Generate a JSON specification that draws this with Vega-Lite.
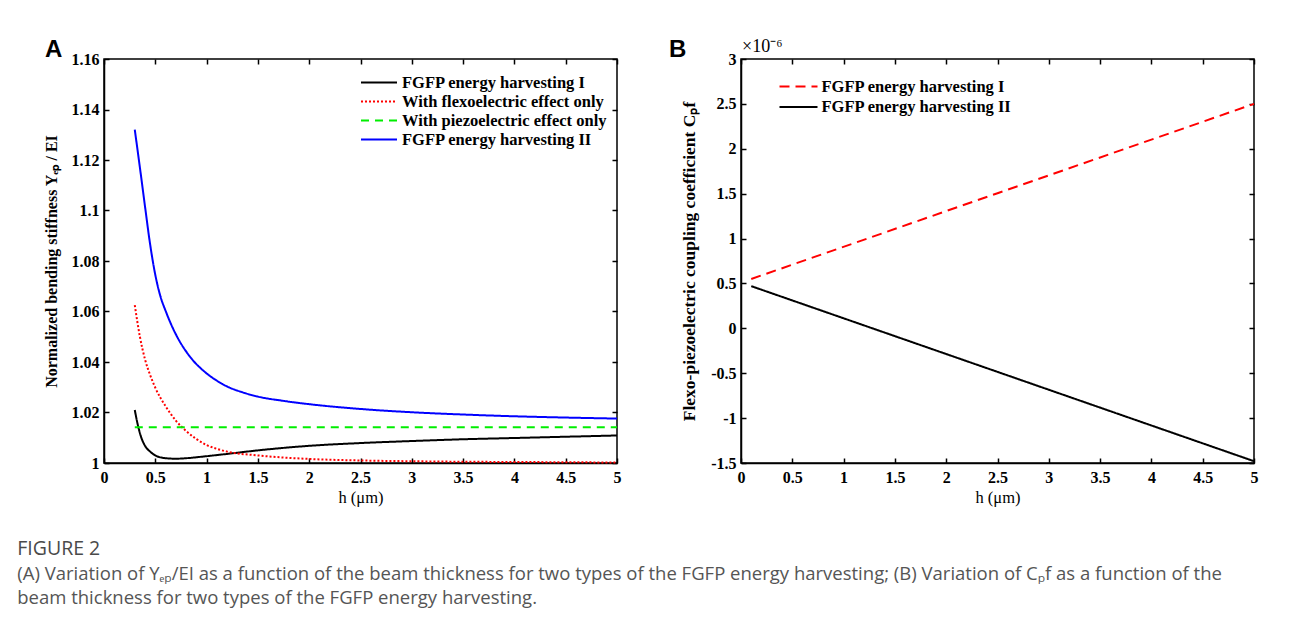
{
  "$schema": "https://vega.github.io/schema/vega-lite/v6.json",
  "background": "white",
  "padding": {"left": 17, "top": 37, "right": 10, "bottom": 5},
  "config": {
    "view": {"stroke": "black", "strokeWidth": 1.5},
    "axis": {
      "grid": false,
      "domainColor": "black",
      "domainWidth": 1.5,
      "tickColor": "black",
      "tickWidth": 1.5,
      "tickSize": -5,
      "labelPadding": 10,
      "labelFont": "Liberation Serif",
      "labelFontSize": 16,
      "labelFontWeight": "bold",
      "labelColor": "black",
      "labelFlush": false,
      "labelOverlap": false,
      "titleFont": "Liberation Serif",
      "titleFontSize": 16,
      "titleFontWeight": "bold",
      "titleColor": "black"
    },
    "axisX": {"labelPadding": 11},
    "legend": {
      "title": null,
      "symbolType": "M-2,0H2",
      "symbolStrokeWidth": 2,
      "labelFont": "Liberation Serif",
      "labelFontSize": 16.5,
      "labelFontWeight": "bold",
      "labelColor": "black",
      "labelLimit": 400,
      "rowPadding": 0,
      "padding": 0
    }
  },
  "resolve": {
    "scale": {"color": "independent", "strokeDash": "independent"},
    "legend": {"color": "independent", "strokeDash": "independent"}
  },
  "title": {
    "text": "FIGURE 2",
    "subtitle": [
      "(A) Variation of Yₑₚ/EI as a function of the beam thickness for two types of the FGFP energy harvesting; (B) Variation of Cₚf as a function of the",
      "beam thickness for two types of the FGFP energy harvesting."
    ],
    "orient": "bottom",
    "anchor": "start",
    "dx": -25,
    "offset": 34,
    "font": "Open Sans",
    "fontSize": 19.5,
    "fontWeight": "normal",
    "color": "#4a4a4a",
    "subtitleFont": "Open Sans",
    "subtitleFontSize": 18.5,
    "subtitleColor": "#555555",
    "subtitleLineHeight": 24,
    "subtitlePadding": 5
  },
  "datasets": {
    "panelA": [
      {"h": 0.3, "value": 1.021, "series": "FGFP energy harvesting I"},
      {"h": 0.33, "value": 1.015, "series": "FGFP energy harvesting I"},
      {"h": 0.36, "value": 1.0105, "series": "FGFP energy harvesting I"},
      {"h": 0.4, "value": 1.0068, "series": "FGFP energy harvesting I"},
      {"h": 0.45, "value": 1.0045, "series": "FGFP energy harvesting I"},
      {"h": 0.5, "value": 1.003, "series": "FGFP energy harvesting I"},
      {"h": 0.6, "value": 1.0019, "series": "FGFP energy harvesting I"},
      {"h": 0.7, "value": 1.0017, "series": "FGFP energy harvesting I"},
      {"h": 0.8, "value": 1.0019, "series": "FGFP energy harvesting I"},
      {"h": 1.0, "value": 1.0027, "series": "FGFP energy harvesting I"},
      {"h": 1.2, "value": 1.0036, "series": "FGFP energy harvesting I"},
      {"h": 1.5, "value": 1.005, "series": "FGFP energy harvesting I"},
      {"h": 2.0, "value": 1.0068, "series": "FGFP energy harvesting I"},
      {"h": 2.5, "value": 1.0079, "series": "FGFP energy harvesting I"},
      {"h": 3.0, "value": 1.0087, "series": "FGFP energy harvesting I"},
      {"h": 3.5, "value": 1.0094, "series": "FGFP energy harvesting I"},
      {"h": 4.0, "value": 1.0099, "series": "FGFP energy harvesting I"},
      {"h": 4.5, "value": 1.0104, "series": "FGFP energy harvesting I"},
      {"h": 5.0, "value": 1.0109, "series": "FGFP energy harvesting I"},

      {"h": 0.3, "value": 1.0625, "series": "With flexoelectric effect only"},
      {"h": 0.35, "value": 1.05, "series": "With flexoelectric effect only"},
      {"h": 0.4, "value": 1.041, "series": "With flexoelectric effect only"},
      {"h": 0.45, "value": 1.0348, "series": "With flexoelectric effect only"},
      {"h": 0.5, "value": 1.0298, "series": "With flexoelectric effect only"},
      {"h": 0.6, "value": 1.0225, "series": "With flexoelectric effect only"},
      {"h": 0.7, "value": 1.0168, "series": "With flexoelectric effect only"},
      {"h": 0.8, "value": 1.0127, "series": "With flexoelectric effect only"},
      {"h": 0.9, "value": 1.0095, "series": "With flexoelectric effect only"},
      {"h": 1.0, "value": 1.0071, "series": "With flexoelectric effect only"},
      {"h": 1.1, "value": 1.0056, "series": "With flexoelectric effect only"},
      {"h": 1.2, "value": 1.0045, "series": "With flexoelectric effect only"},
      {"h": 1.5, "value": 1.003, "series": "With flexoelectric effect only"},
      {"h": 2.0, "value": 1.0016, "series": "With flexoelectric effect only"},
      {"h": 2.5, "value": 1.001, "series": "With flexoelectric effect only"},
      {"h": 3.0, "value": 1.0007, "series": "With flexoelectric effect only"},
      {"h": 3.5, "value": 1.0005, "series": "With flexoelectric effect only"},
      {"h": 4.0, "value": 1.0004, "series": "With flexoelectric effect only"},
      {"h": 4.5, "value": 1.0003, "series": "With flexoelectric effect only"},
      {"h": 5.0, "value": 1.0002, "series": "With flexoelectric effect only"},

      {"h": 0.3, "value": 1.0142, "series": "With piezoelectric effect only"},
      {"h": 5.0, "value": 1.0142, "series": "With piezoelectric effect only"},

      {"h": 0.3, "value": 1.132, "series": "FGFP energy harvesting II"},
      {"h": 0.35, "value": 1.117, "series": "FGFP energy harvesting II"},
      {"h": 0.4, "value": 1.1015, "series": "FGFP energy harvesting II"},
      {"h": 0.45, "value": 1.0865, "series": "FGFP energy harvesting II"},
      {"h": 0.5, "value": 1.0745, "series": "FGFP energy harvesting II"},
      {"h": 0.55, "value": 1.066, "series": "FGFP energy harvesting II"},
      {"h": 0.6, "value": 1.0603, "series": "FGFP energy harvesting II"},
      {"h": 0.65, "value": 1.0553, "series": "FGFP energy harvesting II"},
      {"h": 0.7, "value": 1.051, "series": "FGFP energy harvesting II"},
      {"h": 0.75, "value": 1.0473, "series": "FGFP energy harvesting II"},
      {"h": 0.8, "value": 1.0442, "series": "FGFP energy harvesting II"},
      {"h": 0.87, "value": 1.0405, "series": "FGFP energy harvesting II"},
      {"h": 0.93, "value": 1.038, "series": "FGFP energy harvesting II"},
      {"h": 1.0, "value": 1.0355, "series": "FGFP energy harvesting II"},
      {"h": 1.1, "value": 1.0326, "series": "FGFP energy harvesting II"},
      {"h": 1.2, "value": 1.0303, "series": "FGFP energy harvesting II"},
      {"h": 1.35, "value": 1.028, "series": "FGFP energy harvesting II"},
      {"h": 1.5, "value": 1.0263, "series": "FGFP energy harvesting II"},
      {"h": 1.75, "value": 1.0246, "series": "FGFP energy harvesting II"},
      {"h": 2.0, "value": 1.0233, "series": "FGFP energy harvesting II"},
      {"h": 2.5, "value": 1.0214, "series": "FGFP energy harvesting II"},
      {"h": 3.0, "value": 1.0201, "series": "FGFP energy harvesting II"},
      {"h": 3.5, "value": 1.0192, "series": "FGFP energy harvesting II"},
      {"h": 4.0, "value": 1.0185, "series": "FGFP energy harvesting II"},
      {"h": 4.5, "value": 1.018, "series": "FGFP energy harvesting II"},
      {"h": 5.0, "value": 1.0176, "series": "FGFP energy harvesting II"}
    ],
    "panelB": [
      {"h": 0.1, "value": 0.55, "series": "FGFP energy harvesting I"},
      {"h": 2.5, "value": 1.505, "series": "FGFP energy harvesting I"},
      {"h": 5.0, "value": 2.5, "series": "FGFP energy harvesting I"},
      {"h": 0.1, "value": 0.47, "series": "FGFP energy harvesting II"},
      {"h": 2.5, "value": -0.485, "series": "FGFP energy harvesting II"},
      {"h": 5.0, "value": -1.48, "series": "FGFP energy harvesting II"}
    ],
    "scaleNote": [{"t": "×10⁻⁶"}]
  },
  "spacing": 124,
  "bounds": "flush",
  "hconcat": [
    {
      "width": 513,
      "height": 404,
      "title": {"text": "A", "anchor": "start", "frame": "group", "dx": -59, "offset": -11, "font": "Liberation Sans", "fontSize": 24, "fontWeight": "bold", "color": "black"},
      "resolve": {"axis": {"x": "independent", "y": "independent"}},
      "layer": [
        {
          "data": {"name": "panelA"},
          "mark": {"type": "line", "strokeWidth": 2, "interpolate": "monotone"},
          "encoding": {
            "x": {"field": "h", "type": "quantitative", "scale": {"domain": [0, 5], "nice": false},
              "axis": {"title": "h (μm)", "titleFontWeight": "normal", "titleFontSize": 16.5, "values": [0, 0.5, 1, 1.5, 2, 2.5, 3, 3.5, 4, 4.5, 5], "labelExpr": "'' + datum.value", "titlePadding": 4}},
            "y": {"field": "value", "type": "quantitative", "scale": {"domain": [1, 1.16], "nice": false, "zero": false},
              "axis": {"title": "Normalized bending stiffness Yₑₚ / EI", "values": [1, 1.02, 1.04, 1.06, 1.08, 1.1, 1.12, 1.14, 1.16], "labelExpr": "'' + datum.value", "titlePadding": 12}},
            "color": {"field": "series", "type": "nominal",
              "scale": {"domain": ["FGFP energy harvesting I", "With flexoelectric effect only", "With piezoelectric effect only", "FGFP energy harvesting II"], "range": ["#000000", "#ff0000", "#00ee00", "#0000ff"]},
              "legend": {"orient": "none", "legendX": 265, "legendY": 13.5, "symbolSize": 324, "labelOffset": 13}},
            "strokeDash": {"field": "series", "type": "nominal",
              "scale": {"domain": ["FGFP energy harvesting I", "With flexoelectric effect only", "With piezoelectric effect only", "FGFP energy harvesting II"], "range": [[1, 0], [2, 2], [8, 6], [1, 0]]},
              "legend": {"orient": "none", "legendX": 265, "legendY": 13.5, "symbolSize": 324, "labelOffset": 13}}
          }
        },
        {
          "data": {"name": "panelA"},
          "mark": {"type": "point", "opacity": 0},
          "encoding": {
            "x": {"field": "h", "type": "quantitative", "scale": {"domain": [0, 5], "nice": false},
              "axis": {"orient": "top", "title": null, "labels": false, "domain": false, "values": [0, 0.5, 1, 1.5, 2, 2.5, 3, 3.5, 4, 4.5, 5]}},
            "y": {"field": "value", "type": "quantitative", "scale": {"domain": [1, 1.16], "nice": false, "zero": false},
              "axis": {"orient": "right", "title": null, "labels": false, "domain": false, "values": [1, 1.02, 1.04, 1.06, 1.08, 1.1, 1.12, 1.14, 1.16]}}
          }
        }
      ]
    },
    {
      "width": 513,
      "height": 404,
      "title": {"text": "B", "anchor": "start", "frame": "group", "dx": -72, "offset": -24, "font": "Liberation Sans", "fontSize": 24, "fontWeight": "bold", "color": "black"},
      "resolve": {"axis": {"x": "independent", "y": "independent"}},
      "layer": [
        {
          "data": {"name": "panelB"},
          "mark": {"type": "line", "strokeWidth": 2},
          "encoding": {
            "x": {"field": "h", "type": "quantitative", "scale": {"domain": [0, 5], "nice": false},
              "axis": {"title": "h (μm)", "titleFontWeight": "normal", "titleFontSize": 16.5, "values": [0, 0.5, 1, 1.5, 2, 2.5, 3, 3.5, 4, 4.5, 5], "labelExpr": "'' + datum.value", "titlePadding": 4}},
            "y": {"field": "value", "type": "quantitative", "scale": {"domain": [-1.5, 3], "nice": false, "zero": false},
              "axis": {"title": "Flexo-piezoelectric coupling coefficient Cₚf", "titleFontSize": 17.5, "values": [-1.5, -1, -0.5, 0, 0.5, 1, 1.5, 2, 2.5, 3], "labelExpr": "'' + datum.value", "titlePadding": 12}},
            "color": {"field": "series", "type": "nominal",
              "scale": {"domain": ["FGFP energy harvesting I", "FGFP energy harvesting II"], "range": ["#ff0000", "#000000"]},
              "legend": {"orient": "none", "legendX": 47, "legendY": 17, "symbolSize": 361, "labelOffset": 12.5, "rowPadding": 1.5}},
            "strokeDash": {"field": "series", "type": "nominal",
              "scale": {"domain": ["FGFP energy harvesting I", "FGFP energy harvesting II"], "range": [[10, 6], [1, 0]]},
              "legend": {"orient": "none", "legendX": 47, "legendY": 17, "symbolSize": 361, "labelOffset": 12.5, "rowPadding": 1.5}}
          }
        },
        {
          "data": {"name": "panelB"},
          "mark": {"type": "point", "opacity": 0},
          "encoding": {
            "x": {"field": "h", "type": "quantitative", "scale": {"domain": [0, 5], "nice": false},
              "axis": {"orient": "top", "title": null, "labels": false, "domain": false, "values": [0, 0.5, 1, 1.5, 2, 2.5, 3, 3.5, 4, 4.5, 5]}},
            "y": {"field": "value", "type": "quantitative", "scale": {"domain": [-1.5, 3], "nice": false, "zero": false},
              "axis": {"orient": "right", "title": null, "labels": false, "domain": false, "values": [-1.5, -1, -0.5, 0, 0.5, 1, 1.5, 2, 2.5, 3]}}
          }
        },
        {
          "data": {"name": "scaleNote"},
          "mark": {"type": "text", "align": "left", "baseline": "alphabetic", "dy": -7, "dx": 1, "font": "Liberation Serif", "fontSize": 18, "color": "black"},
          "encoding": {
            "x": {"datum": 0, "type": "quantitative", "axis": null},
            "y": {"datum": 3, "type": "quantitative", "axis": null},
            "text": {"field": "t"}
          }
        }
      ]
    }
  ]
}
